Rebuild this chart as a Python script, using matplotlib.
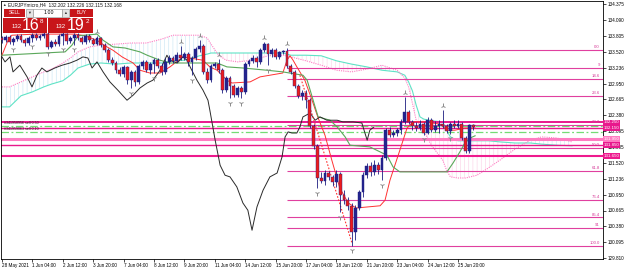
import matplotlib
matplotlib.use("Agg")
import matplotlib.pyplot as plt
from matplotlib.patches import Rectangle
import numpy as np

plt.rcParams["font.family"] = ["Liberation Sans", "DejaVu Sans"]
plt.rcParams["hatch.linewidth"] = 0.4

# EURJPYmicro H4 candles, bar 0 = 28 May 2021
opens = [133.77,133.73,133.79,133.70,133.75,133.81,133.73,133.68,133.77,133.82,
         133.77,133.81,133.84,133.61,133.70,133.66,133.81,133.84,133.72,133.77,
         133.82,133.77,133.70,133.81,133.73,133.66,133.77,133.64,133.55,133.37,
         133.32,133.19,133.12,133.25,133.01,133.16,132.98,133.27,133.34,133.19,
         133.30,133.37,133.27,133.16,133.34,133.41,133.36,133.46,133.41,133.48,
         133.34,133.41,133.57,133.63,133.16,133.01,133.27,133.30,133.19,132.83,
         133.05,132.91,132.74,132.87,132.80,133.30,133.36,133.41,133.34,133.55,
         133.66,133.48,133.55,133.43,133.52,133.54,133.27,133.16,132.91,132.73,
         132.78,132.65,132.19,131.83,131.25,131.20,131.34,131.27,131.18,131.32,
         130.94,130.85,130.75,130.28,130.71,131.00,131.30,131.47,131.36,131.48,
         131.39,131.61,132.11,132.02,132.06,132.11,132.26,132.44,132.26,132.19,
         132.15,132.22,132.06,132.29,132.11,132.19,132.22,132.19,132.10,132.22,
         132.19,132.22,131.97,131.74,132.20]
highs = [133.81,133.82,133.82,133.79,133.84,133.84,133.77,133.81,133.86,133.86,
         133.84,133.90,133.88,133.73,133.75,133.84,133.90,133.86,133.81,133.86,
         133.86,133.81,133.84,133.84,133.77,133.81,133.79,133.68,133.59,133.43,
         133.36,133.25,133.28,133.27,133.19,133.19,133.30,133.37,133.37,133.34,
         133.41,133.41,133.32,133.41,133.46,133.45,133.52,133.63,133.52,133.52,
         133.45,133.61,133.73,133.66,133.23,133.30,133.34,133.39,133.23,133.09,
         133.09,132.94,132.91,132.91,133.34,133.39,133.46,133.45,133.59,133.70,
         133.68,133.59,133.59,133.54,133.55,133.59,133.30,133.19,132.94,132.83,
         132.83,132.69,132.22,131.86,131.36,131.39,131.38,131.30,131.39,131.36,
         131.03,130.91,130.80,130.76,131.03,131.36,131.52,131.54,131.57,131.54,
         131.66,132.15,132.17,132.11,132.15,132.31,132.71,132.47,132.29,132.26,
         132.29,132.26,132.35,132.33,132.28,132.29,132.47,132.22,132.26,132.29,
         132.29,132.26,132.01,132.22,132.23]
lows = [133.68,133.70,133.66,133.64,133.72,133.70,133.63,133.64,133.70,133.73,
        133.73,133.77,133.57,133.59,133.63,133.63,133.64,133.66,133.68,133.64,
        133.73,133.66,133.66,133.70,133.64,133.64,133.61,133.52,133.34,133.28,
        133.14,133.09,133.07,132.94,132.87,132.91,132.94,133.21,133.16,133.12,
        133.14,133.23,133.10,133.12,133.30,133.32,133.34,133.37,133.37,133.27,
        133.10,133.37,133.52,133.12,132.96,132.98,133.23,133.14,132.78,132.80,
        132.69,132.71,132.71,132.69,132.76,133.27,133.32,133.25,133.30,133.52,
        133.28,133.43,133.39,133.39,133.48,133.23,133.12,132.87,132.69,132.65,
        132.51,132.15,131.77,131.07,131.16,131.12,131.21,131.11,131.09,130.64,
        130.78,130.67,130.03,130.13,130.67,130.91,131.25,131.29,131.30,131.32,
        131.21,131.57,131.99,131.99,132.01,132.04,132.22,132.22,132.11,132.10,
        132.11,132.02,132.04,132.08,132.08,132.06,132.15,132.06,132.04,132.15,
        132.15,131.93,131.70,131.70,132.12]
closes = [133.73,133.79,133.70,133.75,133.81,133.73,133.68,133.77,133.82,133.77,
          133.81,133.84,133.61,133.70,133.66,133.81,133.84,133.72,133.77,133.82,
          133.77,133.70,133.81,133.73,133.66,133.77,133.64,133.55,133.37,133.32,
          133.19,133.12,133.25,133.01,133.16,132.98,133.27,133.34,133.19,133.30,
          133.37,133.27,133.16,133.34,133.41,133.36,133.46,133.41,133.48,133.34,
          133.41,133.57,133.63,133.16,133.01,133.27,133.30,133.19,132.83,133.05,
          132.91,132.74,132.87,132.80,133.30,133.36,133.41,133.34,133.55,133.66,
          133.48,133.55,133.43,133.52,133.54,133.27,133.16,132.91,132.73,132.78,
          132.65,132.19,131.83,131.25,131.20,131.34,131.27,131.18,131.32,130.94,
          130.85,130.75,130.28,130.71,131.00,131.30,131.47,131.36,131.48,131.39,
          131.61,132.11,132.02,132.06,132.11,132.26,132.44,132.26,132.19,132.15,
          132.22,132.06,132.29,132.11,132.19,132.22,132.19,132.10,132.22,132.19,
          132.22,131.97,131.74,132.20,132.17]

date_ticks = [0, 8, 16, 24, 32, 40, 48, 56, 64, 72, 80, 88, 96, 104, 112, 120]
date_labels = ["28 May 2021", "1 Jun 04:00", "2 Jun 12:00", "3 Jun 20:00", "7 Jun 04:00",
               "8 Jun 12:00", "9 Jun 20:00", "11 Jun 04:00", "14 Jun 12:00", "15 Jun 20:00",
               "17 Jun 04:00", "18 Jun 12:00", "21 Jun 20:00", "23 Jun 04:00", "24 Jun 12:00",
               "25 Jun 20:00"]
price_labels = ["129.810", "130.095", "130.380", "130.665", "130.950", "131.236", "131.520",
                "131.805", "132.095", "132.380", "132.665", "132.950", "133.236", "133.520",
                "133.805", "134.090", "134.375"]

# Ichimoku cloud (Senkou A / B), shared bar grid
cloud_x = [0, 2, 5, 8, 11, 13, 16, 18, 20, 23, 26, 30, 34, 38, 42, 45, 48, 52, 54, 55,
           57, 59, 62, 66, 70, 74, 76, 80, 84, 88, 92, 96, 100, 104, 106, 107, 108, 109, 110, 111,
           113, 116, 117, 118, 120, 122, 125, 128, 131, 135, 139, 142, 146, 150]
span_a = [132.53,132.53,132.73,132.80,132.89,132.94,133.00,133.10,133.23,133.30,
          133.32,133.30,133.32,133.32,133.32,133.36,133.37,133.45,133.48,133.50,
          133.50,133.50,133.50,133.50,133.50,133.50,133.46,133.46,133.45,133.36,
          133.30,133.25,133.19,133.16,133.10,132.98,132.82,132.56,132.35,132.31,
          132.28,132.26,132.11,131.99,131.92,131.92,131.92,131.92,131.90,131.88,
          131.88,131.86,131.84,131.83]
span_b = [132.89,132.89,132.98,133.07,133.16,133.21,133.32,133.41,133.52,133.61,
          133.64,133.66,133.68,133.68,133.75,133.82,133.82,133.82,133.77,133.66,
          133.46,133.37,133.34,133.37,133.45,133.46,133.43,133.36,133.28,133.19,
          133.16,133.21,133.28,133.19,133.05,132.89,132.60,132.29,132.20,132.10,
          131.84,131.57,131.39,131.27,131.25,131.25,131.30,131.43,131.57,131.77,
          131.93,131.99,131.97,131.90]

tenkan_x = [0,1.6,2.6,8.7,19.2,21.8,25,27.1,29.2,31.6,34.5,36.3,38.9,41.6,44.2,47.6,52.9,54.7,
            56.6,59.2,60.5,65.3,67.9,73.9,75,75.8,76.6,77.6,79.7,81.6,83.2,85,86.8,88.9,91.1,
            93.2,99.5,100.8,102.1,103.4,104.7,106.6,108.2,111.3,115.3,117.1,119.2,121.8,124.5]
tenkan_y = [133.46,133.73,133.82,133.84,133.84,133.81,133.73,133.63,133.55,133.43,133.32,
            133.19,133.14,133.14,133.25,133.43,133.37,133.25,133.19,133.01,132.96,132.98,
            133.07,133.14,133.37,133.45,133.37,133.25,133.01,132.65,132.33,132.02,131.57,
            131.07,130.80,130.71,130.75,130.85,131.21,131.48,131.75,132.15,132.26,132.26,
            132.22,132.11,132.11,132.15,132.15]
kijun_x = [0,16.6,18.4,20,25,26.6,29.2,32.4,36.3,38.2,41.6,44.2,56.6,59.2,63.4,69.7,73.9,79.2,
           80.3,81.1,82.4,83.2,86.3,88.2,90.3,91.6,96.8,101.3,102.9,104.7,117.1,118.7,120.5,
           121.8,123.2,124.5]
kijun_y = [133.46,133.52,133.64,133.81,133.84,133.73,133.61,133.59,133.52,133.46,133.37,
           133.32,133.32,133.25,133.23,133.19,133.16,133.10,133.01,132.83,132.53,132.35,
           132.29,132.17,131.99,131.84,131.81,131.66,131.45,131.36,131.36,131.52,131.72,
           131.88,131.97,132.01]
chikou_x = [0,0.8,2.1,2.9,4.7,6.6,7.9,9.2,10.5,11.8,13.9,15.8,17.9,19.7,21.3,22.6,23.7,25,
            26.6,28.4,30.5,32.9,34.5,36.3,38.2,39.7,41.6,43.4,44.2,46.1,47.6,48.7,49.5,51.3,
            52.9,54.2,54.7,56.1,57.4,58.7,60,61.8,63.4,64.7,65.8,67.1,68.7,70.5,72.4,73.7,
            74.5,75.3,76.3,77.6,78.4,79.2,81.1,82.4,83.7,85.5,88.2,89.7,92.4,94.7,96.1,96.8,97.9]
chikou_y = [133.43,133.34,133.43,133.16,133.28,133.07,132.89,133.10,133.23,133.16,133.23,
            133.28,133.32,133.37,133.43,133.41,133.23,133.34,133.16,132.98,132.83,132.65,
            132.74,132.87,132.96,133.01,133.19,133.46,133.37,133.32,133.43,133.37,133.25,
            133.01,132.83,132.65,132.47,131.93,131.48,131.30,131.27,131.09,130.80,130.67,
            130.31,130.73,131.03,131.27,131.34,131.63,131.99,132.08,132.06,132.06,132.17,
            132.35,132.42,132.29,132.35,132.29,132.29,132.26,132.26,132.24,131.93,132.11,132.17]

# fractals
frac_up_x = [25, 47, 52, 57, 69, 75, 106, 116]
frac_up_y = [133.88, 133.70, 133.81, 133.46, 133.77, 133.66, 132.78, 132.55]
frac_dn_x = [3, 8, 12, 16, 19, 34, 40, 50, 60, 63, 70, 83, 89, 92, 100, 111, 118]
frac_dn_y = [133.57, 133.63, 133.50, 133.57, 133.57, 132.78, 133.05, 133.01, 132.60, 132.60,
             133.19, 130.98, 130.55, 129.95, 131.12, 131.95, 131.97]

trend_x = [78.4, 92.1]
trend_y = [133.10, 130.08]

fib_labels = ["0.0", "9", "14.6", "23.6", "38.2", "50.0", "61.8", "76.4", "85.4", "91", "100.0"]
fib_prices = [133.554, 133.237, 133.040, 132.723, 132.208, 131.793, 131.377, 130.862,
              130.545, 130.348, 130.031]
fib_start = 75

level_prices = [132.25, 132.15, 131.95, 131.85, 131.65]
level_labels = ["132.250", "132.150", "131.950", "131.850", "131.650"]
level_colors = ["#e8188c", "#e8188c", "#ff7cc2", "#e8188c", "#ee1a8e"]
level_widths = [1.4, 1.0, 2.2, 1.0, 1.5]

order_prices = [132.19, 132.08]
order_labels = ["#341958956 sell 0.50", "#341959063 sell 0.10"]

XMAX = 158.03
fig = plt.figure(figsize=(6.25, 2.69), dpi=100)
ax = fig.add_axes([1.5 / 625, 10.5 / 269, 601 / 625, 257.5 / 269])
ax.set_xlim(-0.13, XMAX)
ax.set_ylim(129.801, 134.436)

# cloud
ca, cb = np.array(span_a), np.array(span_b)
ax.fill_between(cloud_x, ca, cb, where=ca >= cb, interpolate=True, facecolor="none",
                edgecolor="#fbcde5", hatch="||||", lw=0, zorder=1)
ax.fill_between(cloud_x, ca, cb, where=ca < cb, interpolate=True, facecolor="none",
                edgecolor="#c6e4f3", hatch="||||", lw=0, zorder=1)
ax.plot(cloud_x, span_a, color="#5fe3c6", lw=0.8, zorder=2)
ax.plot(cloud_x, span_b, color="#ff7fc4", lw=0.8, ls=(0, (1, 1)), zorder=2)

# horizontal levels and order lines
for p, c, w in zip(level_prices, level_colors, level_widths):
    ax.axhline(p, color=c, lw=w, zorder=2)
for p, t in zip(order_prices, order_labels):
    ax.axhline(p, color="#74dc74", lw=0.9, ls=(0, (6, 2, 1.5, 2)), zorder=2)
    ax.text(0.4, p + 0.012, t, fontsize=2.6, color="#202020", va="bottom", zorder=6)

# fibonacci
ax.hlines(fib_prices, fib_start, XMAX, colors="#e0409f", lw=0.8, zorder=2)
for p, t in zip(fib_prices, fib_labels):
    ax.text(157.3, p + 0.012, t, fontsize=3.1, color="#d63a98", ha="right", va="bottom", zorder=6)

# ichimoku lines
ax.plot(tenkan_x, tenkan_y, color="#ff3232", lw=0.7, zorder=3)
ax.plot(kijun_x, kijun_y, color="#5aa85a", lw=0.8, zorder=3)
ax.plot(chikou_x, chikou_y, color="#2a2a2a", lw=0.7, zorder=3)
ax.plot(trend_x, trend_y, color="#ff3232", lw=0.8, ls=(0, (1.5, 1.5)), zorder=3)

# candles
o, h, l, c = map(np.array, (opens, highs, lows, closes))
idx = np.arange(len(c))
bull = c >= o
ax.vlines(idx, l, h, color="#1c1c80", lw=0.6, zorder=4)
ax.bar(idx[bull], (c - o)[bull], bottom=o[bull], width=0.7, color="#24248e",
       edgecolor="#1c1c80", lw=0.3, zorder=5)
ax.bar(idx[~bull], (o - c)[~bull], bottom=c[~bull], width=0.7, color="#ee1c1c",
       edgecolor="#1c1c80", lw=0.3, zorder=5)

# fractals
ax.plot(frac_up_x, frac_up_y, ls="none", marker="2", ms=4, mew=0.7, color="#8c8c8c", zorder=5)
ax.plot(frac_dn_x, frac_dn_y, ls="none", marker="1", ms=4, mew=0.7, color="#8c8c8c", zorder=5)

# axes
ax.yaxis.tick_right()
ax.set_yticks([float(s) for s in price_labels], price_labels)
ax.set_xticks(date_ticks, date_labels)
ax.tick_params(axis="y", length=2, width=0.5, pad=1.5, labelsize=3.3)
ax.tick_params(axis="x", length=2, width=0.5, pad=1.0, labelsize=3.3)
for lbl in ax.get_xticklabels():
    lbl.set_ha("left")
for s in ax.spines.values():
    s.set_linewidth(0.6)
    s.set_color("black")

for p, t, col in zip(level_prices, level_labels, level_colors):
    ax.text(1.002, p, t, transform=ax.get_yaxis_transform(), ha="left", va="center",
            fontsize=3.2, color="white", clip_on=False, zorder=7,
            bbox=dict(boxstyle="square,pad=0.2", fc=col, ec="none"))

# trade panel overlay (pixel coordinates)
ui = fig.add_axes([0, 0, 1, 1], zorder=10)
ui.set_xlim(0, 625)
ui.set_ylim(269, 0)
ui.axis("off")
ui.patch.set_alpha(0)

ui.text(2.5, 4.6, "\u25b2", fontsize=2.6, va="center", color="#333333")
ui.text(7.5, 4.6, "EURJPYmicro,H4  132.202 132.226 132.115 132.168", fontsize=3.4,
        va="center", color="#111111")

red = "#c8161a"
ui.add_patch(Rectangle((4, 9), 21, 8, fc=red, ec="none"))
ui.text(14.5, 13, "SELL", fontsize=3.5, color="white", ha="center", va="center")
ui.add_patch(Rectangle((26, 9), 7, 8, fc="#e4e4e4", ec="#8a8a8a", lw=0.4))
ui.text(29.5, 13, "\u25bc", fontsize=2.8, color="#333333", ha="center", va="center")
ui.add_patch(Rectangle((33, 9), 29, 8, fc="white", ec="#8a8a8a", lw=0.4))
ui.text(49, 13, "1.00", fontsize=3.8, color="black", ha="center", va="center")
ui.add_patch(Rectangle((62, 9), 7, 8, fc="#e4e4e4", ec="#8a8a8a", lw=0.4))
ui.text(65.5, 13, "\u25b2", fontsize=2.8, color="#333333", ha="center", va="center")
ui.add_patch(Rectangle((70, 9), 23, 8, fc=red, ec="none"))
ui.text(81.5, 13, "BUY", fontsize=3.5, color="white", ha="center", va="center")

ui.add_patch(Rectangle((3, 17.5), 44, 15, fc=red, ec="none"))
ui.add_patch(Rectangle((48, 17.5), 45, 15, fc=red, ec="none"))
ui.text(16.5, 27, "132", fontsize=4.3, color="white", ha="center", va="center")
ui.text(31, 25, "16", fontsize=11.5, color="white", ha="center", va="center")
ui.text(41.5, 21.5, "8", fontsize=4.5, color="white", ha="center", va="center")
ui.text(61, 27, "132", fontsize=4.3, color="white", ha="center", va="center")
ui.text(76, 25, "19", fontsize=11.5, color="white", ha="center", va="center")
ui.text(87.5, 21.5, "2", fontsize=4.5, color="white", ha="center", va="center")

fig.savefig("out.png", dpi=100)
